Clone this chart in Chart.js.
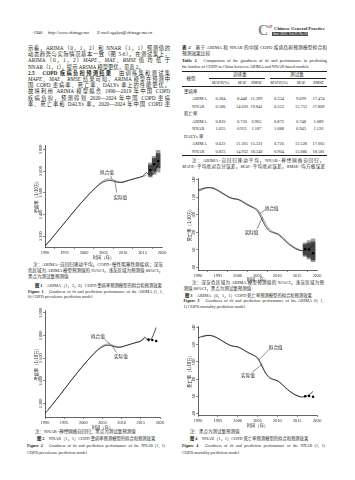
<!DOCTYPE html>
<html><head><meta charset="utf-8">
<script src="https://cdn.jsdelivr.net/npm/chart.js@4.4.1/dist/chart.umd.min.js"></script>
<style>
html,body{margin:0;padding:0;background:#fff;}
#page{position:relative;width:355px;height:480px;overflow:hidden;background:#fff;color:#231f20;font-family:"Liberation Serif","Noto Sans CJK SC",serif;}
.t{position:absolute;white-space:nowrap;}
.j{position:absolute;white-space:normal;text-align:justify;text-align-last:justify;}
.rule{position:absolute;background:#231f20;}
canvas{position:absolute;}
</style></head>
<body><div id="page"></div>
<script>
// ===================== DATA =====================
const years      = [1990,1991,1992,1993,1994,1995,1996,1997,1998,1999,2000,2001,2002,2003,2004,2005,2006,2007,2008,2009,2010,2011,2012,2013,2014,2015,2016,2017,2018,2019];
const fitYears   = [1990,1991,1992,1993,1994,1995,1996,1997,1998,1999,2000,2001,2002,2003,2004,2005,2006,2007,2008,2009,2010,2011,2012,2013,2014,2015,2016];
const testYears  = [2017,2018,2019];
const xTicks     = [1990,1995,2000,2005,2010,2015,2020];

// COPD prevalence (1/10万)
const prevActual  = [2110,2150,2192,2235,2278,2322,2366,2410,2452,2495,2535,2575,2612,2648,2678,2700,2712,2712,2702,2696,2700,2710,2720,2730,2740,2750,2785,2752,2785,2870];
const prevFitArima= [2114,2148,2190,2236,2279,2322,2366,2410,2453,2496,2536,2574,2612,2648,2684,2712,2728,2724,2712,2696,2695,2707,2720,2730,2740,2750,2760];
const prevFitNnar = [null,2152,2194,2237,2280,2324,2368,2411,2454,2496,2537,2576,2614,2650,2683,2709,2724,2722,2709,2698,2698,2709,2720,2731,2741,2752,2772];
const prevTestArima = [2810,2862,2893];
const prevLo95 = [2745,2770,2790];
const prevHi95 = [2875,2935,2990];
const prevLo80 = [2765,2800,2830];
const prevHi80 = [2855,2915,2960];
const prevTestNnar = [2765,2760,2752];
const prevTicks = [2200,2400,2600,2800,3000];

// COPD mortality (1/10万)
const mortActual  = [128.0,129.8,130.8,131.0,129.8,127.5,124.8,122.0,119.5,118.2,117.6,115.3,112.5,110.0,107.8,104.5,96.0,87.0,81.5,79.5,78.0,74.5,70.0,66.0,62.8,60.5,59.0,59.5,61.5,65.5];
const mortFitArima= [126.5,128.5,130.5,131.2,130.6,128.3,125.6,122.8,120.3,118.5,117.8,116.2,113.4,110.8,108.6,106.0,99.5,90.0,83.5,80.5,78.7,75.8,71.4,67.3,63.8,61.3,59.6];
const mortFitNnar = [null,129.0,130.6,131.0,130.0,127.8,125.0,122.3,119.8,118.4,117.7,115.6,112.8,110.3,108.0,105.2,97.5,88.0,82.2,79.8,78.2,74.9,70.5,66.5,63.2,60.8,59.3];
const mortTestArima = [61.0,60.5,56.0];
const mortLo95 = [52.5,49.5,46.5];
const mortHi95 = [68.0,70.5,72.5];
const mortLo80 = [54.0,51.5,48.5];
const mortHi80 = [66.0,67.5,69.0];
const mortTestNnar = [60.0,60.3,59.4];
const mortTicks = [40,60,80,100,120,140];

// Table 2
const tableGroups = ['患病率','死亡率','DALYs 率'];
const tableModels = ['ARIMA','NNAR'];
const tableValues = [
  [['0.284','8.448','11.399','0.334','9.699','17.474'],['0.586','14.620','19.841','0.553','15.753','27.869']],
  [['0.820','0.730','0.965','0.872','0.748','1.089'],['1.035','0.931','1.187','1.088','0.943','1.126']],
  [['0.622','11.305','15.321','0.726','12.528','17.005'],['0.823','14.932','18.240','0.904','15.886','18.581']]
];

// ===================== PAGE TEXT =====================
const page = document.getElementById('page');
function T(x, y, html, o = {}) {
  const fs = o.fs || 5.3, lh = fs * 1.25;
  const d = document.createElement('div');
  d.className = o.w ? 'j' : 't';
  d.style.left = x + 'px';
  d.style.top = (y - lh / 2) + 'px';
  d.style.fontSize = fs + 'px';
  d.style.lineHeight = lh + 'px';
  d.style.height = lh + 'px';
  if (o.w) d.style.width = o.w + 'px';
  if (o.b) d.style.fontWeight = 'bold';
  if (o.color) d.style.color = o.color;
  if (o.bg) d.style.background = o.bg;
  if (o.center) d.style.transform = 'translateX(-50%)';
  d.innerHTML = html;
  page.appendChild(d);
  return d;
}
function Rule(x1, y, x2, th) {
  const d = document.createElement('div'); d.className = 'rule';
  d.style.left = x1 + 'px'; d.style.top = (y - th / 2) + 'px';
  d.style.width = (x2 - x1) + 'px'; d.style.height = th + 'px';
  page.appendChild(d);
}

// header
T(32, 33, '·1946·', {fs: 4.4});
T(48, 33, '<i>http://www.chinagp.net</i>', {fs: 4.4});
T(97, 33, '<i>E-mail:zgqkyx@chinagp.net.cn</i>', {fs: 4.4});
T(258, 30.5, 'C', {fs: 14, color: '#8c8c8c', b: true});
T(267.5, 27.5, 'GP', {fs: 3.6, color: '#9b2c2c', b: true});
T(274, 28.6, 'Chinese General Practice', {fs: 4.7, b: true});
T(272, 34, '&nbsp;June 2022, Vol.25 No.16&nbsp;', {fs: 3.5, color: '#fff', bg: '#4a4a4a'});

// left paragraph
const pL = 28, pW = 142, pFs = 5.3;
const paraLines = [
  ['示看，ARIMA（0，1，2）和 NNAR（1，1）预测值的', 1],
  ['动态趋势与实际情况基本一致（图 5-6）。在测试集上，', 1],
  ['ARIMA（0，1，2）<i>MAPE</i>、<i>MAE</i>、<i>RMSE</i> 值 均 低 于', 1],
  ['NNAR（1，1），提示 ARIMA 模型更优，见表 2。', 0],
  ['<b>2.5　COPD 疾病负担预测结果</b>　由训练集和测试集', 1],
  ['<i>MAPE</i>、<i>MAE</i>、<i>RMSE</i> 结果可知，ARIMA 模型在预测中', 1],
  ['国 COPD 患病率、死亡率、DALYs 率上的性能更优。', 1],
  ['故将利用 ARIMA 模型拟合 1990—2019 年中国 COPD', 1],
  ['疾病负担，预测得到 2020—2024 年中国 COPD 患病', 1],
  ['率、死亡率和 DALYs 率。2020—2024 年中国 COPD 患', 1]
];
const paraY = [48.3, 54.5, 60.7, 66.9, 73.1, 79.3, 85.5, 91.7, 97.9, 104.1];
paraLines.forEach((l, i) => T(pL, paraY[i], l[0], l[1] ? {fs: pFs, w: pW} : {fs: pFs}));

// Table 2
const tx1 = 182, tx2 = 327;
T(tx1, 48.3, '<b>表 2</b>　基于 ARIMA 和 NNAR 的中国 COPD 疾病负担预测模型拟合和', {fs: 4.7, w: tx2 - tx1});
T(tx1, 54.3, '预测效果比较', {fs: 4.7});
T(tx1, 60.8, '<b>Table 2</b>　Comparison of the goodness of fit and performance in predicting', {fs: 4.3, w: tx2 - tx1});
T(tx1, 66.8, 'the burden of COPD in China between ARIMA and NNAR-based models', {fs: 4.3});
Rule(tx1, 71.5, tx2, 0.8);
T(191, 79.2, '模型', {fs: 4.6, center: true});
T(240, 75, '训练集', {fs: 4.6, center: true});
T(297, 75, '测试集', {fs: 4.6, center: true});
Rule(209, 78.3, 265, 0.35);
Rule(270, 78.3, 326, 0.35);
const colX = [220.5, 242, 256.5, 279, 301, 318.5];
const colHead = ['<i>MAPE</i>(%)', '<i>MAE</i>', '<i>RMSE</i>', '<i>MAPE</i>(%)', '<i>MAE</i>', '<i>RMSE</i>'];
colHead.forEach((h, i) => T(colX[i], 82.6, h, {fs: 4.2, center: true}));
Rule(tx1, 86.5, tx2, 0.35);
tableGroups.forEach((g, gi) => {
  const gy = 91.5 + gi * 22.5;
  T(184, gy, g, {fs: 4.5});
  tableModels.forEach((m, mi) => {
    const ry = gy + 7.5 * (mi + 1);
    T(192, ry, m, {fs: 4.4});
    tableValues[gi][mi].forEach((v, ci) => T(colX[ci], ry, v, {fs: 4.4, center: true}));
  });
});
Rule(tx1, 155.8, tx2, 0.8);
T(192, 161.3, '注：ARIMA=自回归移动平均，NNAR=神经网络自回归，', {fs: 4.5, w: 132});
T(182, 167.3, '<i>MAPE</i>=平均绝对百分误差，<i>MAE</i>=平均绝对误差，<i>RMSE</i>=均方根误差', {fs: 4.5, w: 143});

// Figure 1 caption
T(33, 265, '注：ARIMA=自回归移动平均，COPD=慢性阻塞性肺疾病；深灰', {fs: 4.5, w: 130});
T(28, 271, '色区域为 ARIMA 模型预测值的 95%CI，浅灰区域为预测值 80%CI，', {fs: 4.5, w: 135});
T(28, 277, '黑点为测试集预测值', {fs: 4.5});
T(35, 285.5, '<b>图 1</b>　ARIMA（1，2，0）COPD 患病率预测模型的拟合和预测效果', {fs: 4.3});
T(28, 291.5, '<b>Figure 1</b>　Goodness of fit and prediction performance of the ARIMA (1, 2,', {fs: 4.2, w: 135});
T(28, 297, '0) COPD prevalence prediction model', {fs: 4.2});

// Figure 3 caption
T(192, 283.3, '注：深灰色区域为 ARIMA 模型预测值的 95%CI，浅灰区域为预', {fs: 4.5, w: 132});
T(183.5, 289.3, '测值 80%CI，黑点为测试集预测值', {fs: 4.5});
T(185, 295.3, '<b>图 3</b>　ARIMA（0，1，1）COPD 死亡率预测模型的拟合和预测效果', {fs: 4.3});
T(183.5, 301, '<b>Figure 3</b>　Goodness of fit and prediction performance of the ARIMA (0, 1,', {fs: 4.2, w: 140});
T(183.5, 306.5, '1) COPD mortality prediction model', {fs: 4.2});

// Figure 2 caption
T(35, 431.7, '注：NNAR=神经网络自回归；黑点为测试集预测值', {fs: 4.5});
T(37, 438.5, '<b>图 2</b>　NNAR（1，1）COPD 患病率预测模型的拟合和预测效果', {fs: 4.3});
T(27, 446, '<b>Figure 2</b>　Goodness of fit and prediction performance of the NNAR (1, 1)', {fs: 4.2, w: 138});
T(27, 452.3, 'COPD prevalence prediction model', {fs: 4.2});

// Figure 4 caption
T(190, 431.7, '注：黑点为测试集预测值', {fs: 4.5});
T(190, 438.5, '<b>图 4</b>　NNAR（1，1）COPD 死亡率预测模型的拟合和预测效果', {fs: 4.3});
T(182, 446, '<b>Figure 4</b>　Goodness of fit and prediction performance of the NNAR (1, 1)', {fs: 4.2, w: 143});
T(182, 452.3, 'COPD mortality prediction model', {fs: 4.2});

// ===================== CHARTS =====================
Chart.defaults.font.family = '"Liberation Serif","Noto Sans CJK SC",serif';
Chart.defaults.color = '#231f20';
Chart.defaults.animation = false;

const pts = (xs, vs) => xs.map((x, i) => ({x, y: vs[i]}));
const bars = (xs, lo, hi) => xs.map((x, i) => ({x, y: [lo[i], hi[i]]}));
const fmtTick = v => v >= 1000 ? Math.floor(v / 1000) + ' ' + String(v % 1000).padStart(3, '0') : String(v);
const tickFont = {size: 4.3, family: '"Liberation Serif",serif'};
const titleFont = {size: 4.3, family: '"Noto Sans CJK SC",sans-serif'};
const annFont = '4.6px "Noto Sans CJK SC",sans-serif';

function measureWidest(labels) {
  const c = document.createElement('canvas').getContext('2d');
  c.font = tickFont.size + 'px ' + tickFont.family;
  return Math.max(...labels.map(l => c.measureText(l).width));
}

const annotPlugin = {
  id: 'annot',
  afterDatasetsDraw(chart, args, opts) {
    const {ctx, scales: {x, y}} = chart;
    ctx.save();
    ctx.font = annFont; ctx.fillStyle = '#231f20'; ctx.strokeStyle = '#231f20'; ctx.lineWidth = 0.5;
    ctx.textAlign = 'center'; ctx.textBaseline = 'middle';
    (opts.items || []).forEach(a => {
      ctx.fillText(a.text, x.getPixelForValue(a.at[0]), y.getPixelForValue(a.at[1]));
      ctx.beginPath();
      ctx.moveTo(x.getPixelForValue(a.from[0]), y.getPixelForValue(a.from[1]));
      ctx.lineTo(x.getPixelForValue(a.to[0]), y.getPixelForValue(a.to[1]));
      ctx.stroke();
    });
    ctx.restore();
  }
};

function makeChart(sp) {
  const yW = 11, xH = sp.xH, padT = 4, padR = 6;
  const left = sp.L - yW, top = sp.T - padT;
  const w = sp.R - left + padR, h = sp.B - top + xH;
  const cv = document.createElement('canvas');
  cv.width = w; cv.height = h;
  cv.style.left = left + 'px'; cv.style.top = top + 'px';
  cv.style.width = w + 'px'; cv.style.height = h + 'px';
  page.appendChild(cv);
  const tl = 2;
  const widest = measureWidest(sp.yTicks.map(fmtTick));
  const yPad = 2.2 - widest / 2;
  const axisGrid = {display: true, drawOnChartArea: false, drawTicks: true, tickLength: tl, color: '#231f20', lineWidth: 0.5};
  const axisBorder = {display: true, color: '#231f20', width: 0.7};
  const ds = [];
  ds.push({type: 'line', data: pts(testYears, sp.test), showLine: false, pointRadius: 1.25, pointBackgroundColor: '#000', pointBorderWidth: 0, order: 0});
  ds.push({type: 'line', data: pts(years, sp.actual), borderColor: '#1a1a1a', borderWidth: 0.8, pointRadius: 0, tension: 0.25, order: 1});
  ds.push({type: 'line', data: pts(fitYears, sp.fitted), borderColor: '#7a7a7a', borderWidth: 0.8, pointRadius: 0, tension: 0.25, order: 2});
  if (sp.lo80) {
    ds.push({type: 'bar', data: bars(testYears, sp.lo80, sp.hi80), backgroundColor: '#454545', grouped: false, barPercentage: 1, categoryPercentage: 1, order: 3});
    ds.push({type: 'bar', data: bars(testYears, sp.lo95, sp.hi95), backgroundColor: '#9c9c9c', grouped: false, barPercentage: 1, categoryPercentage: 1, order: 4});
  }
  return new Chart(cv, {
    type: 'line',
    data: {datasets: ds},
    plugins: [annotPlugin],
    options: {
      responsive: false, devicePixelRatio: 1, animation: false,
      layout: {padding: {top: padT, right: padR, left: 0, bottom: 0}},
      plugins: {legend: {display: false}, tooltip: {enabled: false}, annot: {items: sp.annots}},
      scales: {
        x: {
          type: 'linear', min: 1990, max: 2020, offset: false,
          afterBuildTicks: s => { s.ticks = xTicks.map(v => ({value: v})); },
          afterFit: s => { s.height = xH; },
          ticks: {font: tickFont, padding: 0.8, autoSkip: false, maxRotation: 0, minRotation: 0, callback: v => String(v)},
          grid: axisGrid, border: axisBorder,
          title: {display: true, text: '时间（年）', font: titleFont, padding: 0}
        },
        y: {
          type: 'linear', min: sp.yMin, max: sp.yMax,
          afterBuildTicks: s => { s.ticks = sp.yTicks.map(v => ({value: v})); },
          afterFit: s => { s.width = yW; },
          ticks: {font: tickFont, padding: yPad, autoSkip: false, minRotation: 90, maxRotation: 90, crossAlign: 'center', callback: v => fmtTick(v)},
          grid: axisGrid, border: axisBorder,
          title: {display: true, text: sp.yTitle, font: titleFont, padding: 0}
        }
      }
    }
  });
}

makeChart({L: 45, T: 145, R: 162, B: 247, xH: 13, yMin: 2100, yMax: 3040, yTicks: prevTicks, yTitle: '患病率（1/10万）',
  actual: prevActual, fitted: prevFitArima, test: prevTestArima, lo95: prevLo95, hi95: prevHi95, lo80: prevLo80, hi80: prevHi80,
  annots: [
    {text: '拟合值', at: [2005.9, 2790], from: [2006.8, 2755], to: [2007.2, 2726]},
    {text: '实际值', at: [2009.3, 2555], from: [2008.4, 2600], to: [2007.9, 2702]}
  ]});

makeChart({L: 45, T: 310, R: 160, B: 417, xH: 13, yMin: 2080, yMax: 3025, yTicks: prevTicks, yTitle: '患病率（1/10万）',
  actual: prevActual, fitted: prevFitNnar, test: prevTestNnar,
  annots: [
    {text: '拟合值', at: [2003.8, 2790], from: [2005.6, 2765], to: [2007.0, 2724]},
    {text: '实际值', at: [2009.8, 2620], from: [2008.6, 2650], to: [2007.6, 2705]}
  ]});

makeChart({L: 198, T: 178, R: 317, B: 270, xH: 12, yMin: 37, yMax: 142, yTicks: mortTicks, yTitle: '死亡率（1/10万）',
  actual: mortActual, fitted: mortFitArima, test: mortTestArima, lo95: mortLo95, hi95: mortHi95, lo80: mortLo80, hi80: mortHi80,
  annots: [
    {text: '拟合值', at: [2008.6, 108], from: [2006.9, 105.5], to: [2005.6, 101.5]},
    {text: '实际值', at: [2003.5, 80], from: [2004.9, 84], to: [2006.2, 97]}
  ]});

makeChart({L: 198, T: 326, R: 317, B: 415, xH: 13, yMin: 38, yMax: 142, yTicks: mortTicks, yTitle: '死亡率（1/10万）',
  actual: mortActual, fitted: mortFitNnar, test: mortTestNnar,
  annots: [
    {text: '拟合值', at: [2009.6, 117.5], from: [2007.9, 114.5], to: [2005.3, 102]},
    {text: '实际值', at: [2002.6, 84.5], from: [2003.7, 88], to: [2006.2, 97.5]}
  ]});
</script>
</body></html>
